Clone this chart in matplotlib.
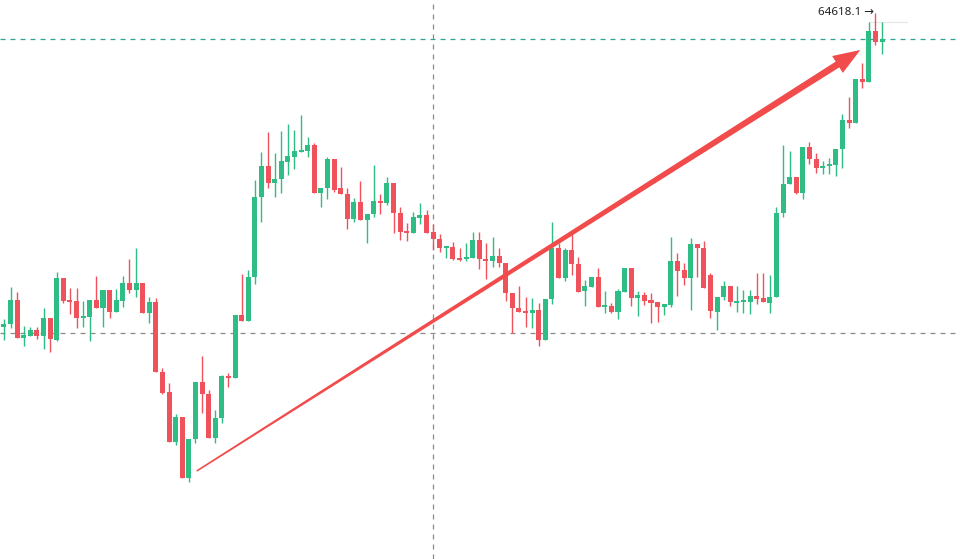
import numpy as np
import matplotlib
matplotlib.use("Agg")
import matplotlib.pyplot as plt
from matplotlib.patches import Polygon
from matplotlib.transforms import IdentityTransform

# OHLC (134 candles, left to right)
open_ = [61478, 61508, 61748, 61368, 61388, 61448, 61388, 61568, 61348, 61968,
         61748, 61738, 61568, 61578, 61748, 61668, 61848, 61628, 61738, 61918,
         61848, 61918, 61618, 61728, 61028, 60828, 60328, 60578, 59968, 60358,
         60928, 60808, 60368, 60568, 60988, 60968, 61598, 61538, 61978, 62778,
         63088, 62918, 62958, 63128, 63178, 63228, 63238, 63298, 62818, 62868,
         63158, 62868, 62808, 62558, 62728, 62548, 62608, 62738, 62718, 62918,
         62618, 62438, 62418, 62568, 62598, 62428, 62358, 62268, 62278, 62168,
         62158, 62168, 62348, 62158, 62138, 62188, 62118, 61818, 61668, 61638,
         61618, 61648, 61348, 61758, 62268, 61968, 62248, 62108, 61838, 61878,
         61978, 61678, 61688, 61628, 61828, 62068, 61768, 61798, 61748, 61728,
         61678, 61698, 62138, 62048, 61968, 62308, 62268, 61998, 61628, 61778,
         61888, 61718, 61728, 61728, 61788, 61768, 61718, 61778, 62618, 62908,
         62978, 62818, 63278, 63158, 63068, 63088, 63098, 63258, 63548, 63518,
         63958, 63928, 64438, 64328]
high = [61558, 61878, 61828, 61488, 61478, 61478, 61668, 61568, 62028, 61968,
        61868, 61868, 61738, 61748, 61988, 61848, 61848, 61858, 61988, 62158,
        62268, 61918, 61778, 61768, 61068, 60918, 60608, 60578, 60358, 60928,
        61188, 60848, 60648, 60998, 61018, 61598, 62008, 62048, 62948, 63228,
        63428, 63218, 63438, 63508, 63448, 63598, 63378, 63318, 62868, 63178,
        63158, 63078, 62868, 62768, 62938, 62608, 63098, 62808, 62978, 62918,
        62678, 62518, 62628, 62718, 62648, 62508, 62408, 62288, 62328, 62268,
        62318, 62428, 62428, 62318, 62378, 62268, 62118, 61818, 61888, 61778,
        61768, 61718, 61758, 62528, 62318, 62268, 62408, 62178, 61948, 61978,
        62068, 61838, 61718, 61858, 62068, 62068, 61838, 61828, 61818, 61728,
        61708, 62378, 62218, 62118, 62368, 62308, 62338, 62018, 61778, 61938,
        61888, 61888, 61848, 61848, 62018, 62018, 61998, 62678, 63298, 63238,
        62978, 63278, 63328, 63218, 63138, 63168, 63258, 63608, 63778, 63958,
        64118, 64528, 64618.1, 64528]
low = [61348, 61468, 61368, 61288, 61388, 61358, 61258, 61228, 61338, 61718,
       61608, 61468, 61478, 61338, 61668, 61478, 61568, 61628, 61678, 61818,
       61778, 61618, 61518, 61028, 60808, 60328, 60298, 59968, 59928, 60318,
       60618, 60368, 60318, 60518, 60878, 60968, 61538, 61538, 61908, 62528,
       62868, 62778, 62818, 62998, 63058, 63228, 63178, 62818, 62678, 62758,
       62828, 62808, 62458, 62528, 62548, 62318, 62578, 62608, 62698, 62418,
       62348, 62338, 62418, 62508, 62418, 62248, 62228, 62168, 62148, 62138,
       62138, 62168, 62058, 61958, 62078, 62078, 61738, 61418, 61628, 61478,
       61468, 61288, 61348, 61708, 61968, 61938, 61998, 61828, 61688, 61878,
       61678, 61618, 61618, 61558, 61828, 61688, 61588, 61698, 61518, 61528,
       61598, 61678, 61788, 61898, 61648, 61978, 61868, 61568, 61448, 61748,
       61688, 61628, 61618, 61608, 61708, 61728, 61618, 61778, 62578, 62908,
       62808, 62758, 63108, 63018, 63008, 63008, 62988, 63068, 63468, 63518,
       63868, 63928, 64298, 64208]
close = [61508, 61748, 61368, 61398, 61448, 61388, 61568, 61358, 61968, 61738,
         61728, 61568, 61588, 61748, 61668, 61848, 61628, 61748, 61918, 61848,
         61918, 61618, 61728, 61028, 60818, 60328, 60578, 59968, 60358, 60928,
         60808, 60368, 60568, 60988, 60968, 61598, 61538, 61978, 62778, 63088,
         62918, 62958, 63138, 63188, 63238, 63248, 63298, 62818, 62868, 63158,
         62848, 62808, 62558, 62728, 62548, 62608, 62738, 62718, 62918, 62618,
         62428, 62418, 62578, 62598, 62418, 62358, 62268, 62288, 62158, 62148,
         62168, 62348, 62158, 62138, 62188, 62118, 61818, 61668, 61628, 61618,
         61648, 61348, 61758, 62268, 61968, 62248, 62108, 61828, 61888, 61978,
         61678, 61688, 61628, 61838, 62068, 61768, 61798, 61738, 61718, 61678,
         61708, 62138, 62038, 61968, 62308, 62268, 61868, 61638, 61778, 61888,
         61728, 61738, 61748, 61788, 61758, 61728, 61778, 62618, 62908, 62978,
         62818, 63278, 63158, 63068, 63088, 63108, 63258, 63548, 63518, 63958,
         63928, 64438, 64328, 64358]

peak_label = "64618.1"
crosshair_idx = 65
crosshair_price = 61418
arrow_start = (29.2, 60038)
arrow_end = (129.7, 64248)

GREEN = "#2ebd85"
RED = "#f0525c"

fig = plt.figure(figsize=(9.6, 5.59), dpi=100)
ax = fig.add_axes([0, 0, 1, 1])
ax.set_xlim(-0.6, 144.8)
ax.set_ylim(59158, 64748)
ax.axis("off")

x = np.arange(len(close))
o = np.array(open_, dtype=float)
c = np.array(close, dtype=float)
hi = np.array(high, dtype=float)
lo = np.array(low, dtype=float)
up = c >= o
cols = np.where(up, GREEN, RED)

# wicks then bodies
ax.vlines(x, lo, hi, colors=cols, linewidth=1.0, zorder=2)
body_h = np.maximum(np.abs(c - o), 22)
body_b = np.minimum(o, c)
ax.bar(x, body_h, bottom=body_b, width=0.76, color=cols, linewidth=0, zorder=3)

# crosshair + last price line
ax.axvline(crosshair_idx, color="#8a8a8a", lw=0.9, ls=(0, (4, 4)), zorder=1)
ax.axhline(crosshair_price, color="#8a8a8a", lw=0.9, ls=(0, (4, 4)), zorder=1)
ax.axhline(close[-1], color="#2fa393", lw=0.9, ls=(0, (4, 4)), zorder=1)

# high marker
ax.text(131.8, high[132], peak_label + " \u2192", ha="right", va="center",
        fontsize=8.4, family=["Noto Sans", "DejaVu Sans"], color="#222222", zorder=5)
ax.plot([131.0, 136.8], [high[131], high[131]], color="#e6e6e6", lw=0.8, zorder=1)

# tapered arrow, built in pixel space
p0 = ax.transData.transform(arrow_start)
p1 = ax.transData.transform(arrow_end)
d = p1 - p0
L = np.hypot(*d)
u = d / L
n = np.array([-u[1], u[0]])
head_len, head_w = 27, 10
base = p1 - u * head_len
w0, w1 = 0.8, 3.4
pts = [p0 + n * w0, base + n * w1, base + n * head_w, p1,
       base - n * head_w, base - n * w1, p0 - n * w0]
ax.add_patch(Polygon(pts, closed=True, transform=IdentityTransform(),
                     facecolor="#f24b4b", edgecolor="none", zorder=6))

fig.savefig("out.png", dpi=100)
